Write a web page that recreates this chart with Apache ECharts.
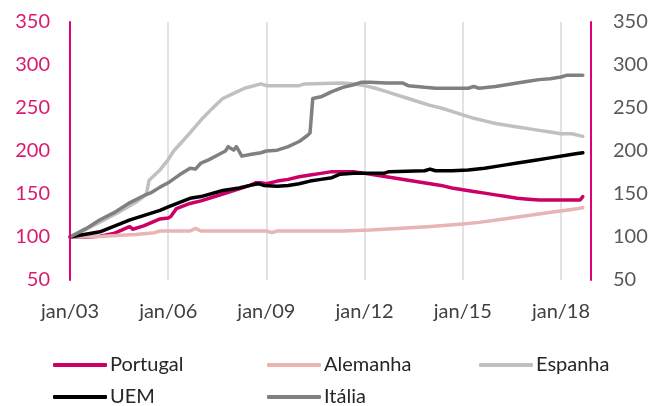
<!DOCTYPE html>
<html>
<head>
<meta charset="UTF-8">
<title>Índices</title>
<script src="https://cdn.jsdelivr.net/npm/echarts@6/dist/echarts.min.js"></script>
<style>
  html, body { margin: 0; padding: 0; background: #fff; }
  #main { width: 665px; height: 406px; }
</style>
</head>
<body>
<div id="main"></div>
<script>
// month index: 0 = jan/03, 36 = jan/06 ...
var tickLabels = ['jan/03', 'jan/06', 'jan/09', 'jan/12', 'jan/15', 'jan/18'];

var ptMonths = [0, 6, 11, 16, 21, 22, 23, 27, 30, 33, 36, 37, 39, 44, 48, 54, 60, 66, 68, 70, 72, 76, 80, 84, 88, 92, 96, 100, 104, 108, 112, 116, 120, 124, 128, 132, 136, 140, 144, 148, 152, 156, 160, 164, 168, 172, 180, 187, 188];
var ptValues = [100, 100, 101, 104, 111, 112, 109, 113, 117, 121, 122, 124, 133, 139, 142, 148, 154, 160, 163, 163, 162, 165, 167, 170, 172, 174, 176, 176, 176, 174, 172, 170, 168, 166, 164, 162, 160, 157, 155, 153, 151, 149, 147, 145, 144, 143, 143, 143, 147];

var deMonths = [0, 12, 24, 31, 33, 44, 46, 48, 60, 72, 74, 76, 90, 100, 110, 120, 131, 144, 150, 159, 168, 177, 184, 188];
var deValues = [100, 101, 103, 105, 107, 107, 110, 107, 107, 107, 105, 107, 107, 107, 108, 110, 112, 115, 117, 121, 125, 129, 132, 134];

var esMonths = [0, 6, 12, 18, 24, 27, 28, 29, 33, 36, 38, 40, 44, 48, 52, 56, 60, 64, 70, 72, 84, 86, 100, 104, 108, 112, 116, 120, 124, 128, 132, 136, 140, 144, 148, 152, 156, 160, 164, 168, 172, 176, 180, 184, 188];
var esValues = [100, 109, 119, 129, 140, 147, 150, 166, 178, 190, 200, 207, 221, 236, 249, 261, 267, 273, 278, 276, 276, 278, 279, 278, 276, 273, 269, 265, 261, 257, 253, 250, 246, 242, 238, 235, 232, 230, 228, 226, 224, 222, 220, 220, 217];

var uemMonths = [0, 11, 22, 33, 36, 44, 48, 56, 62, 66, 69, 71, 76, 80, 84, 88, 92, 96, 99, 104, 115, 117, 130, 132, 134, 140, 146, 152, 158, 164, 170, 176, 182, 186, 188];
var uemValues = [100, 106, 120, 131, 135, 145, 147, 154, 157, 160, 162, 160, 159, 160, 162, 165, 167, 169, 173, 174, 174, 176, 177, 179, 177, 177, 178, 180, 183, 186, 189, 192, 195, 197, 198];

var itMonths = [0, 6, 11, 16, 22, 27, 30, 33, 36, 40, 44, 46, 48, 51, 54, 57, 58, 60, 61, 63, 66, 70, 72, 76, 80, 84, 87, 88, 89, 92, 96, 100, 104, 107, 110, 116, 122, 124, 130, 134, 146, 148, 150, 156, 160, 164, 168, 172, 176, 180, 182, 188];
var itValues = [100, 110, 120, 128, 140, 148, 152, 158, 163, 172, 180, 179, 186, 190, 195, 200, 205, 201, 205, 194, 196, 198, 200, 201, 205, 211, 218, 221, 261, 263, 269, 274, 277, 280, 280, 279, 279, 276, 274, 273, 273, 275, 273, 275, 277, 279, 281, 283, 284, 286, 288, 288];

function pairs(ms, vs) {
  return ms.map(function (m, i) { return [m, vs[i]]; });
}

var FONT = 'Lato';
var MAGENTA = '#e0007a';

var chart = echarts.init(document.getElementById('main'));

function line(name, ms, vs, color) {
  return {
    name: name,
    type: 'line',
    data: pairs(ms, vs),
    symbol: 'none',
    color: color,
    lineStyle: { width: 3.5, color: color, cap: 'round', join: 'round' }
  };
}

function leg(name, left, top) {
  return {
    data: [name],
    left: left,
    top: top,
    icon: 'roundRect',
    itemWidth: 54,
    itemHeight: 4,
    textStyle: { fontFamily: FONT, fontSize: 20, color: '#262626', padding: [0, 0, 0, -2] }
  };
}

var option = {
  animation: false,
  grid: { left: 70, right: 74, top: 22, bottom: 126 },
  legend: [
    leg('Portugal', 48, 350),
    leg('Alemanha', 262, 350),
    leg('Espanha', 474, 350),
    leg('UEM', 48, 382),
    leg('Itália', 262, 382)
  ],
  xAxis: {
    type: 'value',
    min: 0,
    max: 191,
    interval: 36,
    axisLine: { show: false },
    axisTick: { show: false },
    axisLabel: {
      fontFamily: FONT,
      fontSize: 20,
      color: '#404040',
      margin: 22,
      formatter: function (v) {
        return v % 36 === 0 ? tickLabels[v / 36] : '';
      }
    },
    splitLine: { show: true, lineStyle: { color: '#d9d9d9', width: 1.5 } }
  },
  yAxis: [
    {
      type: 'value',
      min: 50,
      max: 350,
      interval: 50,
      position: 'left',
      z: 5,
      axisLine: { show: true, lineStyle: { color: MAGENTA, width: 2 } },
      axisTick: { show: false },
      splitLine: { show: false },
      axisLabel: { fontFamily: FONT, fontSize: 20, color: '#d81b6e', margin: 20 }
    },
    {
      type: 'value',
      min: 50,
      max: 350,
      interval: 50,
      position: 'right',
      z: 5,
      axisLine: { show: true, lineStyle: { color: MAGENTA, width: 2 } },
      axisTick: { show: false },
      splitLine: { show: false },
      axisLabel: { fontFamily: FONT, fontSize: 20, color: '#595959', margin: 22 }
    }
  ],
  series: [
    line('Portugal', ptMonths, ptValues, '#cc0066'),
    line('Alemanha', deMonths, deValues, '#e8b4b4'),
    line('Espanha', esMonths, esValues, '#c0c0c0'),
    line('UEM', uemMonths, uemValues, '#000000'),
    line('Itália', itMonths, itValues, '#808080')
  ]
};

chart.setOption(option);
</script>
</body>
</html>
